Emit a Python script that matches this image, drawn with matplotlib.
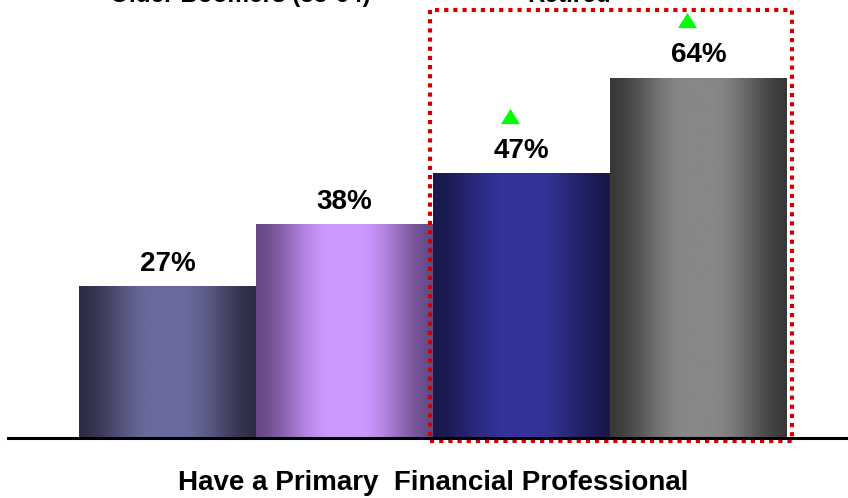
import numpy as np
import matplotlib
matplotlib.use("Agg")
import matplotlib.pyplot as plt
from matplotlib.colors import LinearSegmentedColormap
from matplotlib.patches import Rectangle

plt.rcParams['font.family'] = ['Liberation Sans', 'DejaVu Sans']

# Data
groups = ["Older Boomers (55-64) A", "Older Boomers (55-64) B", "Retired A", "Retired B"]
values = [27, 38, 47, 64]
value_labels = ["27%", "38%", "47%", "64%"]
up_flags = [False, False, True, True]
header_labels = ["Older Boomers (55-64)", "Retired"]
xlabel = "Have a Primary  Financial Professional"

# Cylinder-style shading: (edge colour, centre colour)
shades = [("#2c2c44", "#6a6a9c"),
          ("#664884", "#cc99ff"),
          ("#18184a", "#333399"),
          ("#383838", "#878787")]

W, H = 848, 498
fig = plt.figure(figsize=(W / 100, H / 100), dpi=100)
ax = fig.add_axes([8 / W, (H - 438) / H, (W - 8) / W, 438 / H])

xpos = np.arange(len(values))
ax.set_xlim(-0.5 - 71 / 177, -0.5 + 769 / 177)
ax.set_ylim(0, 438 / 5.63)

bars = ax.bar(xpos, values, width=1.0, facecolor="none", edgecolor="none", zorder=2)

# Brightness across a bar: ramps up from the edges to a flat centre band
u = np.linspace(0, 1, 256)
ramp = np.clip((0.5 - np.abs(u - 0.5)) / 0.4, 0, 1)
prof = 0.5 - 0.5 * np.cos(np.pi * ramp)
prof = 0.6 * prof + 0.4 * ramp
for b, (edge, centre) in zip(bars, shades):
    cmap = LinearSegmentedColormap.from_list("cyl", [edge, centre])
    x0 = b.get_x()
    img = ax.imshow(prof[np.newaxis, :], cmap=cmap, vmin=0, vmax=1, aspect="auto",
                    extent=[x0, x0 + b.get_width(), 0, b.get_height()],
                    interpolation="bicubic", zorder=1)
    img.set_clip_path(b)

# Value labels and up markers
tri = [(-1, -0.8), (1, -0.8), (0, 0.8), (-1, -0.8)]
for x, v, lab, up in zip(xpos, values, value_labels, up_flags):
    ax.annotate(lab, (x, v), xytext=(0, 11), textcoords="offset points",
                ha="center", va="baseline", fontsize=20, fontweight="bold",
                color="#000000", zorder=4)
    if up:
        ax.plot([x - 0.065], [v + 10.2], marker=tri, markersize=19 * 0.72,
                color="#00ff00", markeredgewidth=0, linestyle="none", zorder=4,
                clip_on=False)

# Highlight box around the retired group
box = Rectangle((1.483, -0.55), 3.528 - 1.483, 76.0 + 0.55, fill=False,
                edgecolor="#cc0000", linewidth=3, linestyle=(0, (1, 1.2)),
                clip_on=False, zorder=5)
box.set_capstyle("butt")
ax.add_patch(box)

# Axes styling
for s in ["top", "right", "left"]:
    ax.spines[s].set_visible(False)
ax.spines["bottom"].set_linewidth(2.2)
ax.spines["bottom"].set_color("#000000")
ax.spines["bottom"].set_zorder(6)
ax.set_xticks([])
ax.set_yticks([])
ax.patch.set_alpha(0)

# Group headings (running off the top edge) and category title
fig.text(240 / W, 1 - 2 / H, header_labels[0], ha="center", va="baseline",
         fontsize=17.5, fontweight="bold")
fig.text(569 / W, 1 - 2 / H, header_labels[1], ha="center", va="baseline",
         fontsize=17.5, fontweight="bold")
fig.text(433 / W, (H - 490) / H, xlabel, ha="center", va="baseline",
         fontsize=20, fontweight="bold")

fig.savefig("out.png", dpi=100, facecolor="white")
